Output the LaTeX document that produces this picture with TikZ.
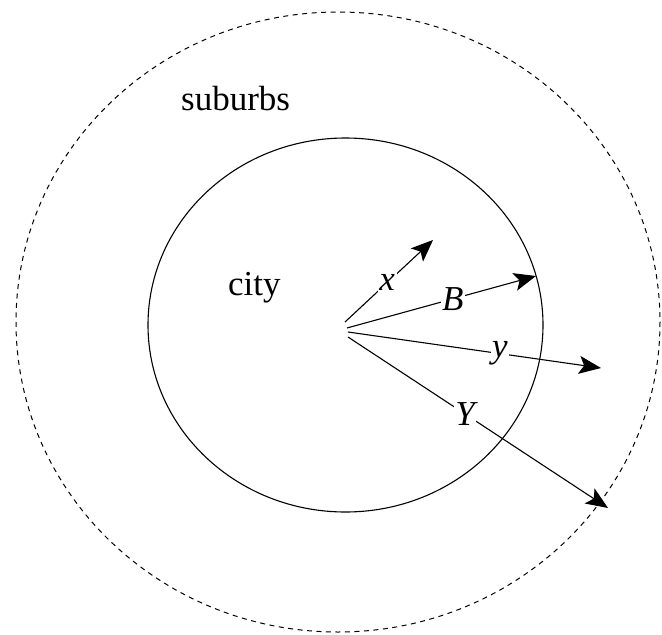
\documentclass[tikz,border=0pt]{standalone}
\usepackage{fontspec}
\setmainfont{Liberation Serif}
\newfontfamily\tmsfont{Liberation Serif}
\usetikzlibrary{arrows.meta}
\tikzset{
  vec/.style={line width=1.1pt, -{Stealth[length=22pt,width=18pt,inset=5pt]}},
  lbl/.style={fill=white, inner sep=1.5pt, font=\tmsfont\fontsize{35}{40}\selectfont\itshape},
  txt/.style={inner sep=0pt, font=\tmsfont\fontsize{35}{40}\selectfont},
}
\begin{document}
\begin{tikzpicture}[x=1pt,y=-1pt]
\useasboundingbox (0,0) rectangle (662,635);
\draw[line width=1pt, dash pattern=on 5pt off 4.5pt] (338,322) ellipse [x radius=322, y radius=310];
\draw[line width=1.1pt] (345.5,325) ellipse [x radius=197.5, y radius=187];
\node[txt, anchor=base west] (sub) at (181,110) {suburbs};
\node[txt, anchor=base west] (city) at (228,295) {city};
\coordinate (ox) at (345,322);
\coordinate (oB) at (347,328);
\coordinate (oy) at (348,332);
\coordinate (oY) at (348,337);
\coordinate (tx) at (433,240);
\coordinate (tB) at (536,276);
\coordinate (ty) at (601,368);
\coordinate (tY) at (608,508);
\draw[vec] (ox) -- node[lbl, pos=0.48] (lx) {x} (tx);
\draw[vec] (oB) -- node[lbl, pos=0.56] (lB) {B} (tB);
\draw[vec] (oy) -- node[lbl, pos=0.60] (ly) {y} (ty);
\draw[vec] (oY) -- node[lbl, pos=0.45] (lY) {Y} (tY);
\end{tikzpicture}
\end{document}
